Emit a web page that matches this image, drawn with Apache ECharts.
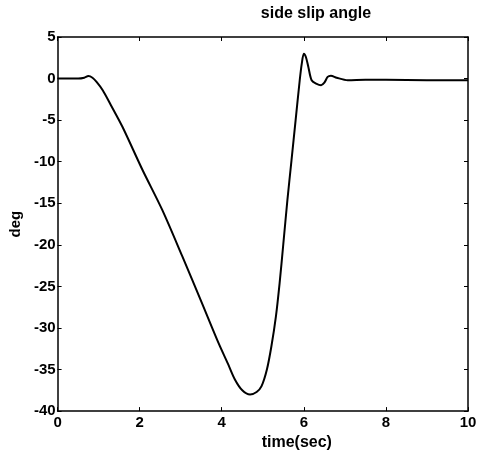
<!DOCTYPE html>
<html>
<head>
<meta charset="utf-8">
<script src="https://cdn.jsdelivr.net/npm/echarts@6/dist/echarts.min.js"></script>
<style>
html,body{margin:0;padding:0;background:#fff;}
#c{width:485px;height:456px;}
</style>
</head>
<body>
<div id="c"></div>
<script>
const titleText = "side slip angle";
const xName = "time(sec)";
const yName = "deg";
const timeSec = [0, 0.5, 0.65, 0.75, 0.85, 0.95, 1.1, 1.3, 1.58, 2.07, 2.55, 3.04, 3.5, 3.92, 4.15, 4.32, 4.5, 4.69, 4.85, 4.97, 5.1, 5.21, 5.32, 5.41, 5.5, 5.6, 5.7, 5.8, 5.9, 5.95, 6.0, 6.05, 6.11, 6.19, 6.3, 6.42, 6.5, 6.58, 6.66, 6.8, 7.07, 7.5, 8, 9, 10];
const slipDeg = [0, 0, 0.1, 0.3, 0.1, -0.4, -1.4, -3.2, -5.8, -11.0, -15.8, -21.4, -26.8, -31.8, -34.3, -36.2, -37.5, -38.0, -37.7, -37.0, -35.0, -32.2, -28.6, -24.6, -19.9, -14.6, -9.8, -5.0, -0.2, 1.8, 3.0, 2.6, 1.4, -0.2, -0.6, -0.8, -0.5, 0.2, 0.35, 0.1, -0.2, -0.15, -0.15, -0.2, -0.2];

const font = '"Liberation Sans", Arial, sans-serif';
const chart = echarts.init(document.getElementById('c'), null, {renderer: 'canvas'});
const data = timeSec.map((t, i) => [t, slipDeg[i]]);
const axisCommon = {
  axisLine: {show: true, onZero: false, lineStyle: {color: '#000', width: 1.5}},
  axisTick: {show: true, inside: true, length: 4, lineStyle: {color: '#000', width: 1}},
  splitLine: {show: false}
};
chart.setOption({
  animation: false,
  backgroundColor: '#fff',
  title: {
    text: titleText, left: 311, top: 1, textAlign: 'center',
    textStyle: {fontFamily: font, fontWeight: 'bold', fontSize: 16, color: '#000'}
  },
  grid: {left: 55, right: 17, top: 37, bottom: 44},
  xAxis: [
    Object.assign({}, axisCommon, {
      type: 'value', min: 0, max: 10, interval: 2, position: 'bottom',
      name: xName, nameLocation: 'middle', nameGap: 17,
      nameTextStyle: {fontFamily: font, fontWeight: 'bold', fontSize: 16, color: '#000', padding: [0, 0, 0, 68]},
      axisLabel: {margin: 4, fontFamily: font, fontWeight: 'bold', fontSize: 15, color: '#000'}
    }),
    Object.assign({}, axisCommon, {
      type: 'value', min: 0, max: 10, interval: 2, position: 'top',
      axisLabel: {show: false}
    })
  ],
  yAxis: [
    Object.assign({}, axisCommon, {
      type: 'value', min: -40, max: 5, interval: 5, position: 'left',
      name: yName, nameLocation: 'middle', nameGap: 33, nameRotate: 90,
      nameTextStyle: {fontFamily: font, fontWeight: 'bold', fontSize: 15, color: '#000'},
      axisLabel: {margin: 2, fontFamily: font, fontWeight: 'bold', fontSize: 15, color: '#000'}
    }),
    Object.assign({}, axisCommon, {
      type: 'value', min: -40, max: 5, interval: 5, position: 'right',
      axisLabel: {show: false}
    })
  ],
  series: [{
    type: 'line', data: data, xAxisIndex: 0, yAxisIndex: 0,
    showSymbol: false, smooth: 0.3,
    lineStyle: {color: '#000', width: 2}
  }]
});
</script>
</body>
</html>
